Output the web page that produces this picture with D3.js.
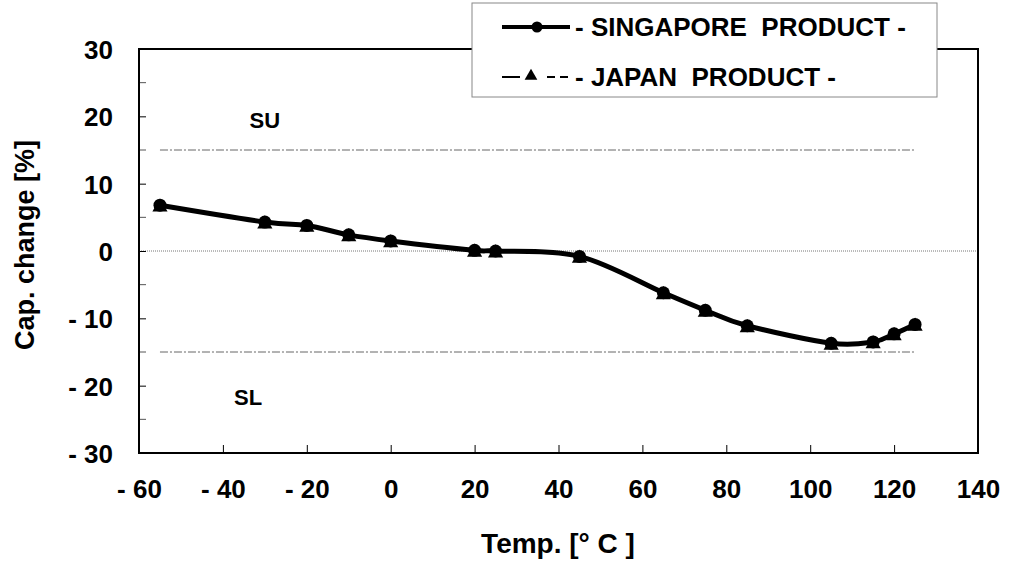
<!DOCTYPE html>
<html>
<head>
<meta charset="utf-8">
<script src="https://cdn.jsdelivr.net/npm/d3@7"></script>
<style>
  body { margin: 0; background: #fff; }
  svg text { font-family: "Liberation Sans", Arial, sans-serif; font-weight: bold; fill: #000; }
</style>
</head>
<body>
<svg id="chart"></svg>
<script>
// temperatures (deg C) and capacitance change (%)
const temps = [-55, -30, -20, -10, 0, 20, 25, 45, 65, 75, 85, 105, 115, 120, 125];
const singapore = [6.8, 4.3, 3.8, 2.4, 1.5, 0.1, 0, -0.8, -6.2, -8.8, -11.1, -13.7, -13.5, -12.3, -10.9];
const japan = [6.8, 4.3, 3.8, 2.4, 1.5, 0.1, 0, -0.8, -6.2, -8.8, -11.1, -13.7, -13.5, -12.3, -10.9];

// spec limits SU / SL
const limitTemps = [-55, 125];
const upperLimit = [15, 15];
const lowerLimit = [-15, -15];

const xTicks = [-60, -40, -20, 0, 20, 40, 60, 80, 100, 120, 140];
const yTicks = [-30, -20, -10, 0, 10, 20, 30];
const yMinorTicks = [-25, -15, -5, 5, 15, 25];

const width = 1015, height = 564;
const margin = { top: 49, right: 37, bottom: 111, left: 139 };
const innerW = width - margin.left - margin.right;
const innerH = height - margin.top - margin.bottom;

const svg = d3.select("#chart").attr("width", width).attr("height", height);
const g = svg.append("g").attr("transform", `translate(${margin.left},${margin.top})`);

const x = d3.scaleLinear().domain([-60, 140]).range([0, innerW]);
const y = d3.scaleLinear().domain([-30, 30]).range([innerH, 0]);

const fmt = d => d < 0 ? "- " + Math.abs(d) : String(d);

// zero line (dotted)
g.append("line")
    .attr("x1", 0).attr("x2", innerW)
    .attr("y1", y(0)).attr("y2", y(0))
    .attr("stroke", "#777").attr("stroke-width", 1)
    .attr("stroke-dasharray", "1,1");

// SU / SL limit lines
const limitLine = d3.line().x((d, i) => x(limitTemps[i])).y(d => y(d));
[upperLimit, lowerLimit].forEach(arr => {
    g.append("path")
        .attr("d", limitLine(arr))
        .attr("fill", "none")
        .attr("stroke", "#666")
        .attr("stroke-width", 1)
        .attr("stroke-dasharray", "8,2,2,2");
});

g.append("text").attr("x", x(-30)).attr("y", y(15) - 22)
    .attr("text-anchor", "middle").style("font-size", "22px").text("SU");
g.append("text").attr("x", x(-34)).attr("y", y(-15) + 53)
    .attr("text-anchor", "middle").style("font-size", "22px").text("SL");

// axes
const xAxis = g.append("g")
    .attr("transform", `translate(0,${innerH})`)
    .call(d3.axisBottom(x).tickValues(xTicks).tickSizeInner(-8).tickSizeOuter(0).tickFormat(fmt));
xAxis.select(".domain").remove();
xAxis.selectAll(".tick line").attr("stroke", "#000").attr("stroke-width", 1);
xAxis.selectAll(".tick text")
    .attr("y", 45).attr("dy", 0)
    .style("font-size", "26px");

const yAxis = g.append("g")
    .call(d3.axisLeft(y).tickValues(yTicks).tickSizeInner(-7).tickSizeOuter(0).tickFormat(fmt));
yAxis.select(".domain").remove();
yAxis.selectAll(".tick line").attr("stroke", "#000").attr("stroke-width", 1);
yAxis.selectAll(".tick text")
    .attr("x", -26).attr("dy", "0.36em")
    .style("font-size", "26px");

g.append("g").selectAll("line")
    .data(yMinorTicks).join("line")
    .attr("x1", 0).attr("x2", 7)
    .attr("y1", d => y(d)).attr("y2", d => y(d))
    .attr("stroke", "#555").attr("stroke-width", 1);

// frame
g.append("rect")
    .attr("width", innerW).attr("height", innerH)
    .attr("fill", "none").attr("stroke", "#000").attr("stroke-width", 2);

// series
const curve = d3.curveCardinal.tension(0);
const lineJapan = d3.line().x((d, i) => x(temps[i])).y(d => y(d)).curve(curve);
const lineSing = d3.line().x((d, i) => x(temps[i])).y(d => y(d)).curve(curve);

g.append("path").attr("d", lineJapan(japan))
    .attr("fill", "none").attr("stroke", "#000").attr("stroke-width", 2)
    .attr("stroke-dasharray", "18,6,6,6");

const tri = d3.symbol().type(d3.symbolTriangle).size(100);
g.append("g").selectAll("path")
    .data(japan).join("path")
    .attr("transform", (d, i) => `translate(${x(temps[i])},${y(d) + 2})`)
    .attr("d", tri).attr("fill", "#000");

g.append("path").attr("d", lineSing(singapore))
    .attr("fill", "none").attr("stroke", "#000").attr("stroke-width", 5);

g.append("g").selectAll("circle")
    .data(singapore).join("circle")
    .attr("cx", (d, i) => x(temps[i])).attr("cy", d => y(d))
    .attr("r", 6.5).attr("fill", "#000");

// axis titles
svg.append("text")
    .attr("x", 558).attr("y", 553)
    .attr("text-anchor", "middle").style("font-size", "28px")
    .text("Temp. [° C ]");
svg.append("text")
    .attr("transform", "translate(34,245) rotate(-90)")
    .attr("text-anchor", "middle").style("font-size", "27px")
    .text("Cap. change [%]");

// legend
const legend = svg.append("g");
legend.append("rect")
    .attr("x", 472).attr("y", 3).attr("width", 465).attr("height", 94)
    .attr("fill", "#fff").attr("stroke", "#888").attr("stroke-width", 1);

legend.append("line")
    .attr("x1", 502).attr("x2", 570).attr("y1", 27).attr("y2", 27)
    .attr("stroke", "#000").attr("stroke-width", 4);
legend.append("circle").attr("cx", 537).attr("cy", 27).attr("r", 5.5).attr("fill", "#000");
legend.append("text").attr("x", 575).attr("y", 36)
    .style("font-size", "26px").attr("xml:space", "preserve")
    .text("- SINGAPORE  PRODUCT -");

legend.append("line")
    .attr("x1", 502).attr("x2", 570).attr("y1", 77).attr("y2", 77)
    .attr("stroke", "#000").attr("stroke-width", 2)
    .attr("stroke-dasharray", "18,27,8,5,8");
legend.append("path")
    .attr("transform", "translate(531,76)")
    .attr("d", d3.symbol().type(d3.symbolTriangle).size(70)).attr("fill", "#000");
legend.append("text").attr("x", 575).attr("y", 86)
    .style("font-size", "26px").attr("xml:space", "preserve")
    .text("- JAPAN  PRODUCT -");
</script>
</body>
</html>
